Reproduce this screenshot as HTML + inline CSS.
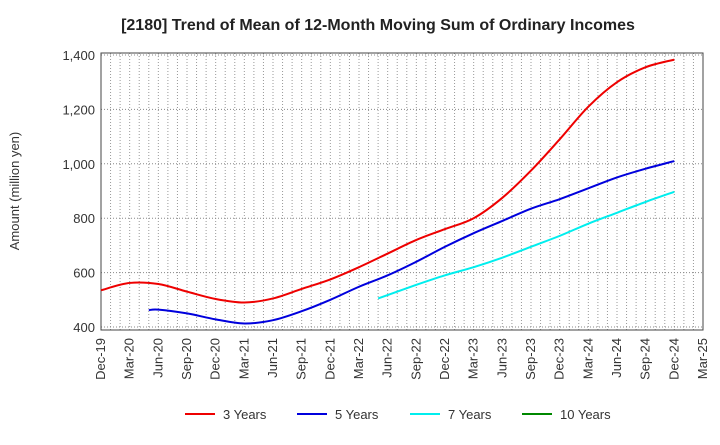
<!DOCTYPE html>
<html><head><meta charset="utf-8"><style>
body{margin:0;background:#fff;font-family:"Liberation Sans",sans-serif;}
</style></head><body>
<svg id="c" width="720" height="440" xmlns="http://www.w3.org/2000/svg" font-family="Liberation Sans, sans-serif"></svg>
<script>
const xLabels=["Dec-19","Mar-20","Jun-20","Sep-20","Dec-20","Mar-21","Jun-21","Sep-21","Dec-21","Mar-22","Jun-22","Sep-22","Dec-22","Mar-23","Jun-23","Sep-23","Dec-23","Mar-24","Jun-24","Sep-24","Dec-24","Mar-25"];
const yTicks=[400,600,800,1000,1200,1400];
const m3=[0,3,6,9,12,15,18,21,24,27,30,33,36,39,42,45,48,51,54,57,60];
const v3=[535,562,558,530,503,490,505,540,575,620,670,720,760,800,875,975,1090,1210,1300,1355,1383];
const m5=[5,6,9,12,15,18,21,24,27,30,33,36,39,42,45,48,51,54,57,60];
const v5=[462,464,450,428,413,425,458,500,548,590,640,695,745,790,835,870,910,950,982,1010];
const m7=[29,33,36,39,42,45,48,51,54,57,60];
const v7=[505,555,590,620,655,695,735,780,820,860,897];
const m10=[];const v10=[];
const svg=document.getElementById('c');const NS='http://www.w3.org/2000/svg';
const L=101,R=703,T=53,B=330;
const x=m=>L+m*(R-L)/63;
const y=v=>327-(v-400)*272/1000;
function mk(t,a,p){const e=document.createElementNS(NS,t);for(const k in a)e.setAttribute(k,a[k]);(p||svg).appendChild(e);return e;}
let e=mk('text',{x:378,y:30,'text-anchor':'middle','font-size':16,'font-weight':'bold',fill:'#222'});e.textContent='[2180]  Trend of Mean of 12-Month Moving Sum of Ordinary Incomes';


for(let m=1;m<63;m++){e=mk('line',{x1:x(m),x2:x(m),y1:T,y2:B,stroke:'#999','stroke-dasharray':'1,2','stroke-width':1});

}
yTicks.forEach(v=>{e=mk('line',{x1:L,x2:R,y1:y(v),y2:y(v),stroke:'#888','stroke-dasharray':'1,2'});


const t=mk('text',{x:L-6,y:y(v)+5,'text-anchor':'end','font-size':13,fill:'#333'});t.textContent=v.toLocaleString('en-US');

});
e=mk('rect',{x:L,y:T,width:R-L,height:B-T,fill:'none',stroke:'#444'});


xLabels.forEach((s,i)=>{const px=x(i*3)+4;const t=mk('text',{x:0,y:0,transform:`translate(${px},${B+8}) rotate(-90)`,'text-anchor':'end','font-size':13,fill:'#333'});t.textContent=s;

});
e=mk('text',{x:0,y:0,transform:'translate(19,191) rotate(-90)','text-anchor':'middle','font-size':13,fill:'#333'});e.textContent='Amount (million yen)';


function path(ms,vs){const P=ms.map((m,i)=>[x(m),y(vs[i])]);if(!P.length)return '';let d=`M${P[0][0]},${P[0][1]}`;
for(let i=0;i<P.length-1;i++){const p0=P[i-1]||P[i],p1=P[i],p2=P[i+1],p3=P[i+2]||p2;
d+=`C${p1[0]+(p2[0]-p0[0])/6},${p1[1]+(p2[1]-p0[1])/6} ${p2[0]-(p3[0]-p1[0])/6},${p2[1]-(p3[1]-p1[1])/6} ${p2[0]},${p2[1]}`;}return d;}
const series=[[m3,v3,'#ee0000','3 Years','series-3-years'],[m5,v5,'#0000dd','5 Years','series-5-years'],[m7,v7,'#00eeee','7 Years','series-7-years'],[m10,v10,'#008800','10 Years','series-10-years']];
const lx=[185,297,410,522];
series.forEach((s,i)=>{if(s[0].length){const p=mk('path',{d:path(s[0],s[1]),fill:'none',stroke:s[2],'stroke-width':2});

}
const g=mk('g',{});


mk('line',{x1:lx[i],x2:lx[i]+30,y1:414,y2:414,stroke:s[2],'stroke-width':2},g);
const t=mk('text',{x:lx[i]+38,y:419,'font-size':13,fill:'#333'},g);t.textContent=s[3];});
</script>
</body></html>
